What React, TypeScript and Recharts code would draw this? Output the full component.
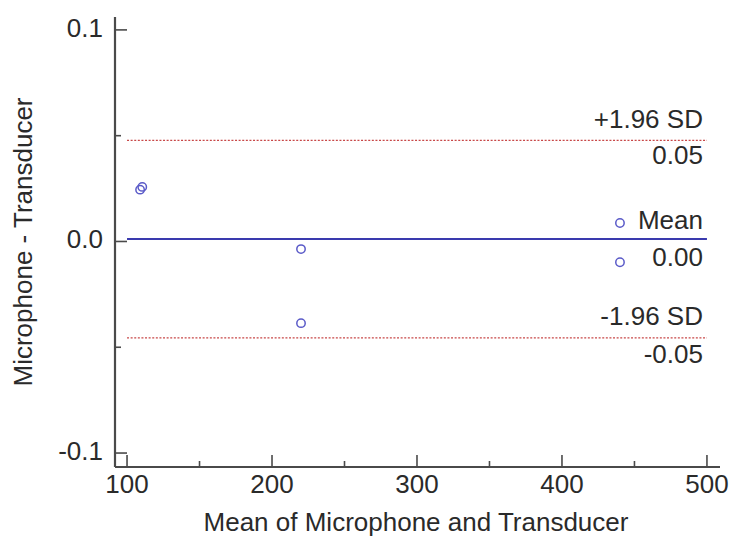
import React from 'react';
import { ScatterChart, Scatter, XAxis, YAxis, ReferenceLine, Label } from 'recharts';

// ---- data ----
const meanValues = [109, 110.5, 220, 220, 440, 440];
const diffValues = [0.0245, 0.0258, -0.0036, -0.0386, 0.0087, -0.0098];
const xTicks = [100, 150, 200, 250, 300, 350, 400, 450, 500];
const xMajorTicks = [100, 200, 300, 400, 500];
const yTicks = [-0.1, -0.05, 0, 0.05, 0.1];
const yMajorTicks = [-0.1, 0, 0.1];
const meanDiff = 0.0012;
const upperLimit = 0.0478;
const lowerLimit = -0.0456;
const limitNames = ['+1.96 SD', 'Mean', '-1.96 SD'];
const lineXRange = [100, 500];

const points = meanValues.map((m, i) => ({ x: m, y: diffValues[i] }));

const FONT = '"Liberation Sans", Arial, Helvetica, sans-serif';
const TEXT = '#2a2a2a';
const AXIS = '#4a4a4a';

const XTick = (props: any) => {
  const { x, y, payload } = props;
  const major = xMajorTicks.includes(payload.value);
  return (
    <g>
      <line x1={x} x2={x} y1={y} y2={y - (major ? 12 : 6)} stroke={AXIS} strokeWidth={1.6} />
      {major && (
        <text x={x} y={y + 26} textAnchor="middle" fontSize={26} fontFamily={FONT} fill={TEXT}>
          {payload.value}
        </text>
      )}
    </g>
  );
};

const YTick = (props: any) => {
  const { x, y, payload } = props;
  const major = yMajorTicks.some((t) => Math.abs(t - payload.value) < 1e-9);
  return (
    <g>
      <line x1={x} x2={x + (major ? 12 : 6)} y1={y} y2={y} stroke={AXIS} strokeWidth={1.6} />
      {major && (
        <text x={x - 12} y={y + 7} textAnchor="end" fontSize={26} fontFamily={FONT} fill={TEXT}>
          {payload.value === 0 ? '0.0' : String(payload.value)}
        </text>
      )}
    </g>
  );
};

const makeLineLabel = (top: string, bottom: string, topDy: number, botDy: number) => (props: any) => {
  const vb = props.viewBox || {};
  const xr = (vb.x ?? 0) + (vb.width ?? 0) - 4;
  const yy = vb.y ?? 0;
  return (
    <g>
      <text x={xr} y={yy + topDy} textAnchor="end" fontSize={26} fontFamily={FONT} fill={TEXT}>
        {top}
      </text>
      <text x={xr} y={yy + botDy} textAnchor="end" fontSize={26} fontFamily={FONT} fill={TEXT}>
        {bottom}
      </text>
    </g>
  );
};

const fmt = (v: number) => {
  const s = (Math.round(v * 100) / 100).toFixed(2);
  return s === '-0.00' ? '0.00' : s;
};

const Circle = (p: any) => (
  <circle cx={p.cx} cy={p.cy} r={4.2} fill="none" stroke="#5a5ac8" strokeWidth={1.5} />
);

export default function App() {
  return (
    <div style={{ position: 'absolute', left: 0, top: 0, width: 729, height: 539, background: '#fff' }}>
      <ScatterChart
        width={729}
        height={539}
        margin={{ top: 17, right: 9, left: 114, bottom: 71 }}
      >
        <XAxis
          type="number"
          dataKey="x"
          domain={[91.7, 509]}
          ticks={xTicks}
          interval={0}
          height={1}
          tickSize={0}
          tickMargin={0}
          tickLine={false}
          tick={<XTick />}
          axisLine={{ stroke: AXIS, strokeWidth: 2.2 }}
          allowDataOverflow
        >
          <Label
            content={() => (
              <text x={416} y={531} textAnchor="middle" fontSize={26} fontFamily={FONT} fill={TEXT}>
                Mean of Microphone and Transducer
              </text>
            )}
          />
        </XAxis>
        <YAxis
          type="number"
          dataKey="y"
          domain={[-0.1066, 0.1061]}
          ticks={yTicks}
          interval={0}
          width={1}
          tickSize={0}
          tickMargin={0}
          tickLine={false}
          tick={<YTick />}
          axisLine={{ stroke: AXIS, strokeWidth: 2.2 }}
          allowDataOverflow
        >
          <Label
            content={() => (
              <text
                x={0}
                y={0}
                transform="translate(32,242) rotate(-90)"
                textAnchor="middle"
                fontSize={26}
                fontFamily={FONT}
                fill={TEXT}
              >
                Microphone - Transducer
              </text>
            )}
          />
        </YAxis>
        <ReferenceLine
          segment={[{ x: lineXRange[0], y: upperLimit }, { x: lineXRange[1], y: upperLimit }]}
          stroke="#c84848"
          strokeWidth={1.3}
          strokeDasharray="2 1.6"
          label={makeLineLabel(limitNames[0], fmt(upperLimit), -12, 24)}
          ifOverflow="visible"
        />
        <ReferenceLine
          segment={[{ x: lineXRange[0], y: meanDiff }, { x: lineXRange[1], y: meanDiff }]}
          stroke="#3a3aae"
          strokeWidth={2}
          label={makeLineLabel(limitNames[1], fmt(meanDiff), -10, 27)}
          ifOverflow="visible"
        />
        <ReferenceLine
          segment={[{ x: lineXRange[0], y: lowerLimit }, { x: lineXRange[1], y: lowerLimit }]}
          stroke="#c84848"
          strokeWidth={1.3}
          strokeDasharray="2 1.6"
          label={makeLineLabel(limitNames[2], fmt(lowerLimit), -13, 25)}
          ifOverflow="visible"
        />
        <Scatter data={points} shape={Circle} isAnimationActive={false} />
      </ScatterChart>
    </div>
  );
}
